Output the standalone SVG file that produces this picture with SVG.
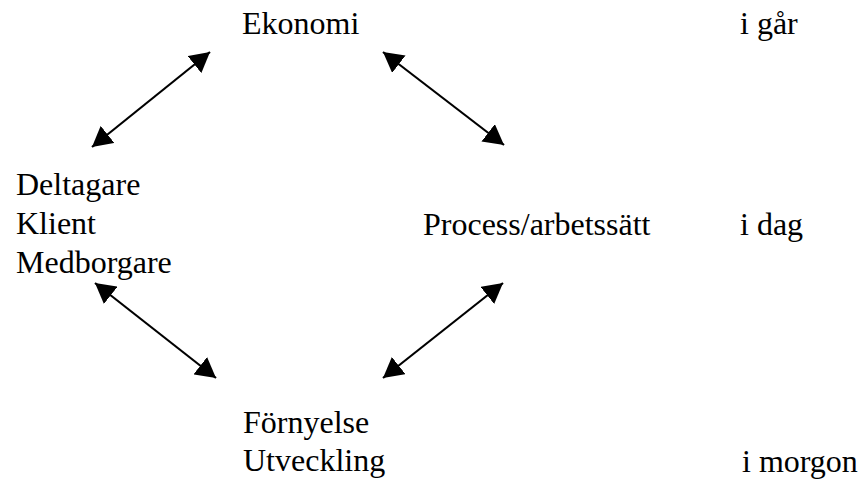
<svg xmlns="http://www.w3.org/2000/svg" width="861" height="482" viewBox="0 0 861 482">
  <style>
    text { font-family: "Liberation Serif", Tinos, "Times New Roman", Times, "DejaVu Serif", serif; font-size: 32px; fill: #000; }
    .link { stroke: #000; stroke-width: 2.2; fill: none; marker-start: url(#head); marker-end: url(#head); }
  </style>
  <defs>
    <marker id="head" viewBox="0 0 20 22" refX="20" refY="11" markerWidth="20" markerHeight="22" markerUnits="userSpaceOnUse" orient="auto-start-reverse">
      <path d="M0,0 L20,11 L0,22 z" fill="#000"/>
    </marker>
  </defs>

  <g id="ekonomi"><text x="242" y="34">Ekonomi</text></g>
  <g id="deltagare">
    <text x="16" y="195">Deltagare</text>
    <text x="16" y="234">Klient</text>
    <text x="16" y="273">Medborgare</text>
  </g>
  <g id="process"><text x="423" y="235">Process/arbetssätt</text></g>
  <g id="fornyelse">
    <text x="243" y="433">Förnyelse</text>
    <text x="243" y="471">Utveckling</text>
  </g>
  <g id="tid">
    <text x="740" y="34">i går</text>
    <text x="740" y="235">i dag</text>
    <text x="742" y="472">i morgon</text>
  </g>

  <g id="connectors">
    <line class="link" x1="92" y1="147" x2="210" y2="52"/>
    <line class="link" x1="383" y1="52" x2="504" y2="145"/>
    <line class="link" x1="95" y1="283" x2="216" y2="378"/>
    <line class="link" x1="383" y1="378" x2="503" y2="283"/>
  </g>
</svg>
